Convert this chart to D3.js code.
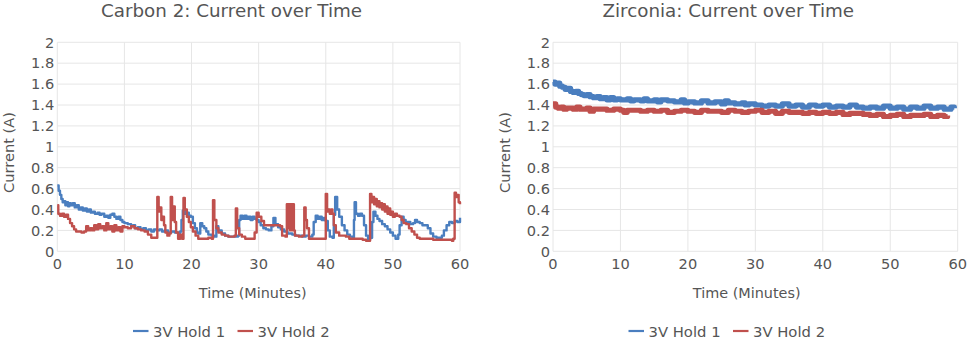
<!DOCTYPE html>
<html>
<head>
<meta charset="utf-8">
<script src="https://cdn.jsdelivr.net/npm/d3@7"></script>
<style>
  body { margin: 0; background: #fff; }
  svg text { font-family: "DejaVu Sans", Verdana, sans-serif; fill: #555; }
</style>
</head>
<body>
<div id="chart"></div>
<script>
// chart data (time in minutes, current in amps)
var seriesNames = ["3V Hold 1", "3V Hold 2"];
var seriesColors = ["#4a7ebf", "#c0504d"];
var yTicks = [0, 0.2, 0.4, 0.6, 0.8, 1, 1.2, 1.4, 1.6, 1.8, 2];
var xTicks = [0, 10, 20, 30, 40, 50, 60];

var carbonHold1 = [[0,0.63],[0.2,0.58],[0.4,0.54],[0.6,0.50],[0.8,0.47],[1,0.48],[1.2,0.44],[1.4,0.47],[1.6,0.43],[1.8,0.46],[2,0.44],[2.3,0.46],[2.6,0.42],[2.9,0.44],[3.2,0.40],[3.5,0.42],[3.8,0.39],[4.1,0.41],[4.4,0.38],[4.7,0.40],[5,0.37],[5.3,0.38],[5.6,0.36],[6,0.37],[6.3,0.35],[6.6,0.36],[7,0.33],[7.3,0.34],[7.6,0.32],[7.9,0.35],[8.2,0.36],[8.5,0.33],[8.8,0.31],[9.1,0.33],[9.4,0.30],[9.7,0.28],[10,0.27],[10.5,0.26],[11,0.24],[11.3,0.25],[11.6,0.22],[12,0.23],[12.4,0.21],[12.8,0.22],[13.2,0.20],[13.6,0.21],[14,0.19],[14.4,0.21],[14.8,0.20],[15.2,0.21],[15.6,0.19],[16,0.20],[16.5,0.18],[17,0.19],[17.5,0.18],[18,0.17],[18.3,0.19],[18.5,0.30],[18.7,0.39],[19,0.36],[19.3,0.37],[19.6,0.34],[19.9,0.33],[20.2,0.27],[20.5,0.22],[20.8,0.18],[21,0.17],[21.3,0.27],[21.6,0.24],[21.9,0.22],[22.2,0.19],[22.5,0.16],[23,0.15],[23.4,0.14],[23.7,0.24],[24,0.20],[24.5,0.17],[25,0.15],[25.5,0.14],[26,0.14],[26.5,0.14],[26.9,0.15],[27.1,0.30],[27.3,0.34],[27.6,0.31],[27.9,0.34],[28.2,0.31],[28.5,0.33],[28.8,0.30],[29.1,0.33],[29.4,0.31],[29.7,0.30],[30,0.28],[30.3,0.25],[30.7,0.22],[31.1,0.21],[31.5,0.20],[31.9,0.24],[32.2,0.32],[32.5,0.26],[32.9,0.23],[33.3,0.21],[33.8,0.19],[34.3,0.17],[35,0.16],[35.5,0.15],[36,0.15],[36.5,0.14],[37,0.15],[37.5,0.14],[38,0.16],[38.2,0.28],[38.5,0.34],[38.8,0.31],[39.1,0.33],[39.4,0.30],[39.7,0.32],[40,0.29],[40.3,0.20],[40.6,0.14],[41,0.13],[41.2,0.35],[41.4,0.52],[41.7,0.40],[42,0.33],[42.4,0.25],[42.8,0.20],[43.2,0.16],[43.6,0.14],[44,0.12],[44.2,0.30],[44.3,0.47],[44.5,0.36],[44.8,0.34],[45.1,0.36],[45.4,0.34],[45.7,0.25],[46,0.15],[46.3,0.11],[46.6,0.13],[46.9,0.28],[47.1,0.38],[47.4,0.34],[47.7,0.31],[48,0.29],[48.4,0.26],[48.8,0.24],[49.2,0.21],[49.6,0.18],[50,0.15],[50.4,0.12],[50.8,0.16],[51,0.25],[51.3,0.33],[51.6,0.30],[51.9,0.27],[52.2,0.28],[52.6,0.26],[53,0.27],[53.3,0.30],[53.6,0.28],[54,0.27],[54.4,0.25],[54.8,0.25],[55.2,0.22],[55.6,0.17],[56,0.14],[56.5,0.13],[57,0.13],[57.3,0.15],[57.6,0.20],[58,0.25],[58.4,0.28],[58.8,0.27],[59.2,0.29],[59.6,0.28],[60,0.32]];

var carbonHold2 = [[0,0.44],[0.15,0.36],[0.4,0.34],[0.7,0.36],[1,0.33],[1.3,0.35],[1.6,0.31],[1.9,0.27],[2.2,0.24],[2.5,0.21],[2.8,0.19],[3.2,0.19],[3.6,0.18],[4,0.19],[4.3,0.24],[4.6,0.20],[4.9,0.22],[5.2,0.20],[5.5,0.25],[5.8,0.21],[6.1,0.26],[6.4,0.22],[6.7,0.24],[7,0.20],[7.3,0.27],[7.6,0.21],[7.9,0.24],[8.2,0.19],[8.5,0.25],[8.8,0.20],[9.1,0.23],[9.4,0.19],[9.7,0.24],[10,0.23],[10.5,0.22],[11,0.24],[11.5,0.22],[12,0.21],[12.5,0.20],[13,0.19],[13.5,0.16],[14,0.13],[14.5,0.13],[14.8,0.13],[14.9,0.52],[15.1,0.38],[15.3,0.42],[15.5,0.30],[15.7,0.33],[15.9,0.25],[16.1,0.18],[16.4,0.15],[16.7,0.17],[16.9,0.52],[17.1,0.30],[17.3,0.43],[17.5,0.28],[17.7,0.18],[18,0.12],[18.3,0.16],[18.6,0.12],[18.8,0.51],[19,0.40],[19.3,0.33],[19.6,0.28],[19.9,0.23],[20.2,0.19],[20.6,0.15],[21,0.12],[21.5,0.12],[22,0.12],[22.5,0.13],[23,0.12],[23.2,0.49],[23.4,0.30],[23.7,0.22],[24,0.18],[24.5,0.16],[25,0.15],[25.5,0.14],[26,0.14],[26.4,0.15],[26.6,0.41],[26.8,0.22],[27.1,0.16],[27.5,0.14],[28,0.12],[28.5,0.12],[29,0.12],[29.4,0.18],[29.7,0.37],[30,0.33],[30.4,0.29],[30.8,0.25],[31.2,0.25],[32,0.25],[32.8,0.25],[33.2,0.24],[33.5,0.15],[34,0.14],[34.2,0.45],[34.35,0.22],[34.5,0.45],[34.65,0.20],[34.8,0.45],[34.95,0.20],[35.1,0.45],[35.25,0.20],[35.4,0.15],[36,0.14],[36.5,0.15],[36.8,0.42],[37,0.30],[37.2,0.22],[37.5,0.12],[38,0.12],[38.5,0.12],[39,0.12],[39.5,0.12],[39.9,0.12],[40,0.55],[40.2,0.38],[40.4,0.40],[40.6,0.36],[40.8,0.40],[41,0.36],[41.2,0.25],[41.5,0.18],[42,0.15],[42.5,0.15],[43,0.14],[43.5,0.12],[44,0.12],[44.5,0.12],[45,0.12],[45.5,0.11],[46,0.10],[46.5,0.10],[46.6,0.55],[46.8,0.47],[47,0.52],[47.2,0.45],[47.4,0.50],[47.6,0.43],[47.8,0.48],[48,0.42],[48.2,0.46],[48.4,0.40],[48.6,0.45],[48.8,0.38],[49,0.43],[49.2,0.36],[49.4,0.41],[49.6,0.35],[49.8,0.38],[50,0.33],[50.3,0.36],[50.6,0.34],[51,0.33],[51.3,0.30],[51.6,0.27],[52,0.26],[52.4,0.22],[52.8,0.19],[53.2,0.16],[53.6,0.13],[54,0.12],[55,0.12],[56,0.11],[57,0.11],[58,0.11],[58.8,0.10],[59,0.12],[59.2,0.56],[59.4,0.52],[59.6,0.54],[59.8,0.47],[60,0.45]];

var zirconiaHold1 = [[0,1.62],[0.3,1.60],[0.6,1.61],[1,1.58],[1.4,1.57],[1.8,1.55],[2.2,1.56],[2.6,1.53],[3,1.52],[3.4,1.53],[3.8,1.51],[4.2,1.50],[4.6,1.49],[5,1.50],[5.5,1.48],[6,1.47],[6.5,1.48],[7,1.46],[7.5,1.47],[8,1.45],[8.5,1.47],[9,1.45],[9.5,1.46],[10,1.45],[11,1.46],[11.5,1.44],[12,1.45],[13,1.44],[13.5,1.46],[14,1.44],[15,1.45],[15.5,1.43],[16,1.45],[17,1.44],[18,1.43],[19,1.45],[19.5,1.42],[20,1.43],[21,1.42],[22,1.44],[23,1.42],[24,1.43],[25,1.41],[25.5,1.44],[26,1.42],[27,1.41],[28,1.42],[28.5,1.40],[29,1.41],[30,1.40],[31,1.39],[32,1.40],[33,1.39],[34,1.41],[35,1.39],[36,1.40],[37,1.38],[38,1.40],[39,1.39],[40,1.40],[41,1.38],[42,1.39],[43,1.38],[44,1.40],[45,1.38],[46,1.37],[47,1.38],[48,1.37],[49,1.39],[50,1.37],[51,1.38],[52,1.36],[53,1.38],[54,1.37],[55,1.39],[56,1.37],[57,1.38],[58,1.36],[59,1.38],[59.5,1.37]];

var zirconiaHold2 = [[0,1.41],[0.4,1.38],[0.8,1.37],[1.2,1.38],[1.6,1.36],[2,1.37],[3,1.36],[3.5,1.38],[4,1.36],[5,1.37],[5.5,1.34],[6,1.36],[7,1.36],[8,1.35],[9,1.36],[10,1.35],[10.5,1.33],[11,1.35],[12,1.35],[13,1.34],[14,1.35],[15,1.34],[16,1.35],[17,1.33],[18,1.34],[19,1.35],[20,1.34],[21,1.33],[22,1.35],[23,1.34],[24,1.34],[25,1.33],[26,1.35],[27,1.34],[28,1.33],[29,1.34],[30,1.35],[31,1.33],[32,1.34],[33,1.32],[34,1.34],[35,1.33],[36,1.33],[37,1.32],[38,1.33],[39,1.32],[40,1.33],[41,1.32],[42,1.33],[43,1.31],[44,1.32],[45,1.32],[46,1.31],[47,1.30],[48,1.31],[49,1.29],[50,1.30],[51,1.31],[52,1.29],[53,1.30],[54,1.30],[55,1.31],[56,1.29],[57,1.30],[58,1.29],[58.5,1.30]];

var svg = d3.select("#chart")
  .append("svg")
  .attr("width", 969)
  .attr("height", 339);

function drawPanel(opts) {
  var x = d3.scaleLinear().domain([0, 60]).range([opts.left, opts.right]);
  var y = d3.scaleLinear().domain([0, 2]).range([251.3, 42.3]);
  var g = svg.append("g");

  // grid
  g.selectAll(".hgrid").data(yTicks).enter().append("line")
    .attr("x1", x(0)).attr("x2", x(60))
    .attr("y1", d => y(d)).attr("y2", d => y(d))
    .attr("stroke", "#e6e6e6").attr("stroke-width", 1);
  g.selectAll(".vgrid").data(xTicks).enter().append("line")
    .attr("x1", d => x(d)).attr("x2", d => x(d))
    .attr("y1", y(0)).attr("y2", y(2))
    .attr("stroke", "#e6e6e6").attr("stroke-width", 1);

  // tick labels
  g.selectAll(".ylab").data(yTicks).enter().append("text")
    .attr("x", x(0) - 3)
    .attr("y", d => y(d))
    .attr("dy", "0.36em")
    .attr("text-anchor", "end")
    .style("font-size", "14.6px")
    .text(d => d);
  g.selectAll(".xlab").data(xTicks).enter().append("text")
    .attr("x", d => x(d))
    .attr("y", 268.5)
    .attr("text-anchor", "middle")
    .style("font-size", "14.6px")
    .text(d => d);

  // lines
  var line = d3.line().x(d => x(d[0])).y(d => y(d[1])).curve(opts.curve);
  opts.series.forEach(function(s, i) {
    g.append("path")
      .datum(s)
      .attr("fill", "none")
      .attr("stroke", seriesColors[i])
      .attr("stroke-width", opts.lineWidth)
      .attr("stroke-linejoin", "round")
      .attr("d", line);
  });

  // titles
  g.append("text")
    .attr("x", opts.titleX).attr("y", 16.7)
    .attr("text-anchor", "middle")
    .style("font-size", "18.3px")
    .text(opts.title);
  g.append("text")
    .attr("x", opts.xTitleX).attr("y", 298.3)
    .attr("text-anchor", "middle")
    .style("font-size", "14.4px")
    .text("Time (Minutes)");
  g.append("text")
    .attr("transform", `translate(${opts.yTitleX}, 152.5) rotate(-90)`)
    .attr("text-anchor", "middle")
    .style("font-size", "14.6px")
    .text("Current (A)");

  // legend
  var lx = opts.legendX;
  var leg = g.append("g").attr("transform", `translate(${lx}, 0)`);
  seriesNames.forEach(function(name, i) {
    var off = i * 104.5;
    leg.append("line")
      .attr("x1", off).attr("x2", off + 15.5)
      .attr("y1", 331).attr("y2", 331)
      .attr("stroke", seriesColors[i]).attr("stroke-width", 2.2);
    leg.append("text")
      .attr("x", off + 20).attr("y", 336.6)
      .style("font-size", "14.8px")
      .text(name);
  });
}

drawPanel({
  left: 57.3, right: 460,
  title: "Carbon 2: Current over Time", titleX: 231.5,
  xTitleX: 252.7, yTitleX: 13.5, legendX: 133,
  series: [carbonHold1, carbonHold2],
  curve: d3.curveStepAfter, lineWidth: 2.4
});

drawPanel({
  left: 553, right: 957.7,
  title: "Zirconia: Current over Time", titleX: 728.3,
  xTitleX: 746.7, yTitleX: 509.5, legendX: 628.5,
  series: [zirconiaHold1, zirconiaHold2],
  curve: d3.curveStepAfter, lineWidth: 5.2
});
</script>
</body>
</html>
